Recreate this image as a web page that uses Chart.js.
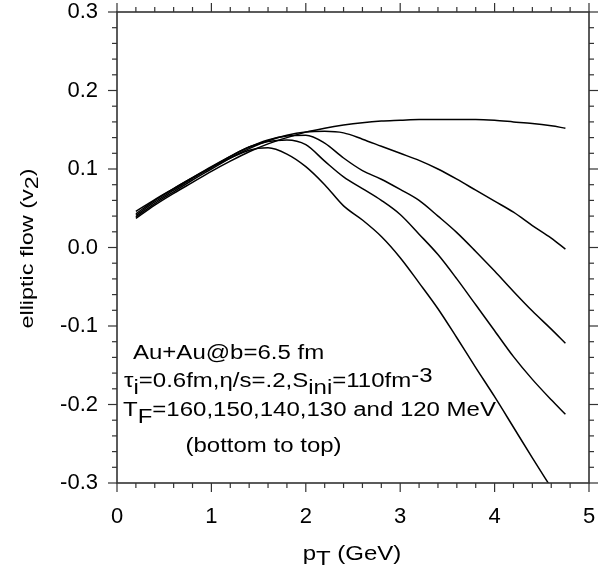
<!DOCTYPE html>
<html>
<head>
<meta charset="utf-8">
<script src="https://cdn.jsdelivr.net/npm/chart.js@4.4.1/dist/chart.umd.min.js"></script>
<style>
html,body{margin:0;padding:0;background:#fff;}
canvas{display:block;}
</style>
</head>
<body>
<canvas id="c" width="614" height="574"></canvas>
<script>
// ---- data ----
const pT = [0.2, 0.4, 0.6, 0.8, 1.0, 1.2, 1.4, 1.6, 1.8, 2.0, 2.2, 2.4, 2.6, 2.8, 3.0, 3.2, 3.4, 3.6, 3.8, 4.0, 4.2, 4.4, 4.6, 4.75];
const v2_TF120 = [0.037, 0.054, 0.069, 0.083, 0.097, 0.110, 0.122, 0.132, 0.140, 0.147, 0.152, 0.156, 0.159, 0.161, 0.162, 0.163, 0.163, 0.163, 0.163, 0.162, 0.160, 0.158, 0.155, 0.152];
const v2_TF130 = [0.039, 0.056, 0.071, 0.086, 0.100, 0.114, 0.126, 0.136, 0.143, 0.147, 0.148, 0.146, 0.138, 0.129, 0.120, 0.111, 0.100, 0.087, 0.073, 0.059, 0.045, 0.028, 0.012, -0.002];
const v2_TF140 = [0.041, 0.058, 0.073, 0.088, 0.102, 0.116, 0.128, 0.137, 0.142, 0.143, 0.133, 0.114, 0.098, 0.087, 0.074, 0.060, 0.040, 0.019, -0.005, -0.030, -0.056, -0.081, -0.104, -0.122];
const v2_TF150 = [0.043, 0.060, 0.075, 0.089, 0.103, 0.116, 0.128, 0.135, 0.137, 0.131, 0.110, 0.090, 0.075, 0.060, 0.042, 0.017, -0.009, -0.040, -0.073, -0.106, -0.139, -0.168, -0.194, -0.2125];
const v2_TF160 = [0.046, 0.061, 0.075, 0.089, 0.102, 0.114, 0.124, 0.127, 0.119, 0.103, 0.080, 0.053, 0.035, 0.014, -0.013, -0.045, -0.078, -0.115, -0.153, -0.190, -0.229, -0.268, -0.306, null];

const xTickValues = [0, 1, 2, 3, 4, 5];
const xTickLabels = ['0', '1', '2', '3', '4', '5'];
const yTickValues = [-0.3, -0.2, -0.1, 0.0, 0.1, 0.2, 0.3];
const yTickLabels = ['-0.3', '-0.2', '-0.1', '0.0', '0.1', '0.2', '0.3'];

const series = [v2_TF160, v2_TF150, v2_TF140, v2_TF130, v2_TF120];
const seriesNames = ['TF=160 MeV', 'TF=150 MeV', 'TF=140 MeV', 'TF=130 MeV', 'TF=120 MeV'];

const FONT = '"Liberation Sans", Arial, Helvetica, sans-serif';

function richText(ctx, x, y, segs, size, sx, align, rot) {
  ctx.save();
  ctx.font = size + 'px ' + FONT;
  ctx.textBaseline = 'alphabetic';
  ctx.textAlign = 'left';
  ctx.fillStyle = '#000';
  let w = 0;
  for (const s of segs) w += ctx.measureText(s.t).width;
  ctx.translate(x, y);
  if (rot) ctx.rotate(rot);
  ctx.scale(sx, 1);
  let cx = align === 'center' ? -w / 2 : 0;
  for (const s of segs) {
    ctx.fillText(s.t, cx, s.dy || 0);
    cx += ctx.measureText(s.t).width;
  }
  ctx.restore();
}

const framePlugin = {
  id: 'frame',
  afterDatasetsDraw(chart) {
    const {ctx, chartArea: a, scales: {x, y}} = chart;
    ctx.save();
    ctx.strokeStyle = '#333';
    ctx.lineWidth = 1.2;
    const line = (x1, y1, x2, y2) => { ctx.beginPath(); ctx.moveTo(x1, y1); ctx.lineTo(x2, y2); ctx.stroke(); };
    for (let i = 0; i <= 25; i++) {
      const px = x.getPixelForValue(i * 0.2);
      const L = (i % 5 === 0) ? 9 : 5;
      line(px, a.bottom, px, a.bottom + L);
      line(px, a.top, px, a.top - L);
    }
    for (let i = 0; i <= 30; i++) {
      const py = y.getPixelForValue(-0.3 + i * 0.02);
      const L = (i % 5 === 0) ? 9 : 5;
      line(a.left - L, py, a.left, py);
      line(a.right, py, a.right + L, py);
    }
    ctx.lineWidth = 1.6;
    ctx.strokeRect(a.left, a.top, a.right - a.left, a.bottom - a.top);
    ctx.restore();
  },
  afterDraw(chart) {
    const {ctx, chartArea: a} = chart;
    const cxp = (a.left + a.right) / 2;
    const cyp = (a.top + a.bottom) / 2;
    // axis titles
    richText(ctx, cxp - 1, 560, [{t: 'p'}, {t: 'T', dy: 5}, {t: ' (GeV)'}], 20, 1.2, 'center');
    richText(ctx, 33, cyp + 1, [{t: 'elliptic flow (v'}, {t: '2', dy: 5}, {t: ')'}], 18.6, 1.26, 'center', -Math.PI / 2);
    // annotation
    richText(ctx, 133, 359, [{t: 'Au+Au@b=6.5 fm'}], 20, 1.2);
    richText(ctx, 124, 386.5, [{t: 'τ'}, {t: 'i', dy: 7}, {t: '=0.6fm,η/s=.2,S'}, {t: 'ini', dy: 7}, {t: '=110fm'}, {t: '-3', dy: -5}], 20, 1.2);
    richText(ctx, 123, 416, [{t: 'T'}, {t: 'F', dy: 7}, {t: '=160,150,140,130 and 120 MeV'}], 20, 1.2);
    richText(ctx, 185.5, 452, [{t: '(bottom to top)'}], 20, 1.2);
  }
};

const datasets = series.map((s, k) => ({
  label: seriesNames[k],
  data: pT.map((x, i) => ({x: x, y: s[i]})),
  borderColor: '#000',
  borderWidth: 1.5,
  pointRadius: 0,
  fill: false,
  cubicInterpolationMode: 'monotone',
  spanGaps: false,
  clip: 0
}));

function zeroPad(sc) { sc.paddingTop = 0; sc.paddingBottom = 0; sc.paddingLeft = 0; sc.paddingRight = 0; }

new Chart(document.getElementById('c'), {
  type: 'line',
  data: {datasets},
  options: {
    responsive: false,
    animation: false,
    devicePixelRatio: 1,
    layout: {padding: {top: 12, right: 25, left: 0, bottom: 0}},
    plugins: {legend: {display: false}, tooltip: {enabled: false}},
    scales: {
      x: {
        type: 'linear', min: 0, max: 5,
        afterBuildTicks: (sc) => { sc.ticks = xTickValues.map(v => ({value: v})); },
        afterFit: (sc) => { sc.height = 91; zeroPad(sc); },
        grid: {display: false, drawTicks: false},
        border: {display: false},
        ticks: {
          autoSkip: false, maxRotation: 0, padding: 21, color: '#000',
          font: {family: FONT, size: 22},
          callback: (v) => { const i = xTickValues.indexOf(v); return i >= 0 ? xTickLabels[i] : ''; }
        }
      },
      y: {
        type: 'linear', min: -0.3, max: 0.3,
        afterBuildTicks: (sc) => { sc.ticks = yTickValues.map(v => ({value: v})); },
        afterFit: (sc) => { sc.width = 117; zeroPad(sc); },
        grid: {display: false, drawTicks: false},
        border: {display: false},
        ticks: {
          autoSkip: false, padding: 19, color: '#000',
          font: {family: FONT, size: 22},
          callback: (v) => {
            let best = 0;
            for (let i = 0; i < yTickValues.length; i++) if (Math.abs(yTickValues[i] - v) < Math.abs(yTickValues[best] - v)) best = i;
            return yTickLabels[best];
          }
        }
      }
    }
  },
  plugins: [framePlugin]
});
</script>
</body>
</html>
